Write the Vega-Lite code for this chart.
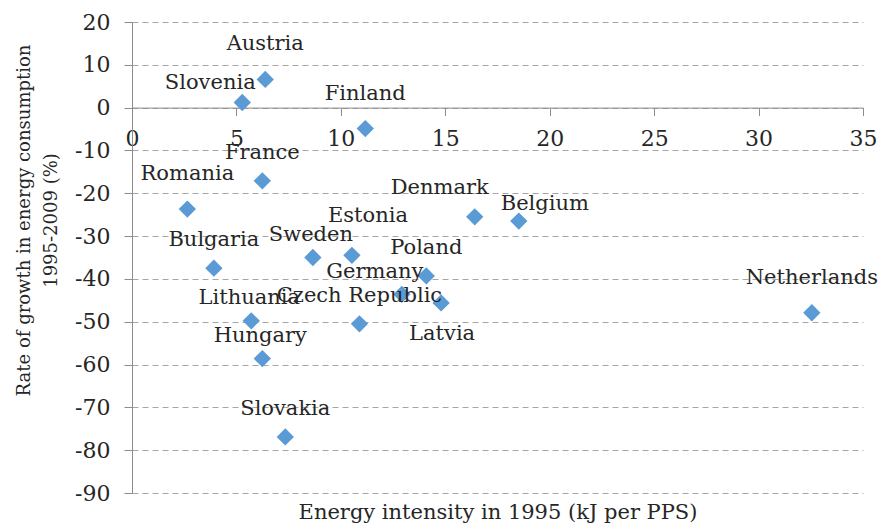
{
  "$schema": "https://vega.github.io/schema/vega-lite/v6.json",
  "width": 731,
  "height": 471,
  "autosize": {"type": "none"},
  "padding": {"left": 132, "top": 22, "right": 17, "bottom": 31},
  "background": "white",
  "config": {"view": {"stroke": null}, "font": "DejaVu Serif"},
  "data": {
    "values": [
      {"country": "Austria", "intensity": 6.38, "growth": 6.6},
      {"country": "Slovenia", "intensity": 5.28, "growth": 1.2},
      {"country": "Finland", "intensity": 11.17, "growth": -4.9},
      {"country": "France", "intensity": 6.24, "growth": -17.1},
      {"country": "Romania", "intensity": 2.65, "growth": -23.7},
      {"country": "Bulgaria", "intensity": 3.92, "growth": -37.5},
      {"country": "Sweden", "intensity": 8.66, "growth": -35.0},
      {"country": "Estonia", "intensity": 10.53, "growth": -34.5},
      {"country": "Lithuania", "intensity": 5.71, "growth": -49.8},
      {"country": "Czech Republic", "intensity": 10.89, "growth": -50.5},
      {"country": "Hungary", "intensity": 6.24, "growth": -58.6},
      {"country": "Slovakia", "intensity": 7.34, "growth": -76.9},
      {"country": "Denmark", "intensity": 16.41, "growth": -25.5},
      {"country": "Belgium", "intensity": 18.52, "growth": -26.5},
      {"country": "Poland", "intensity": 14.09, "growth": -39.3},
      {"country": "Germany", "intensity": 12.92, "growth": -43.6},
      {"country": "Latvia", "intensity": 14.8, "growth": -45.6},
      {"country": "Netherlands", "intensity": 32.55, "growth": -47.9}
    ]
  },
  "encoding": {
    "x": {
      "field": "intensity",
      "type": "quantitative",
      "scale": {"domain": [0, 35], "nice": false, "zero": false},
      "axis": {
        "values": [0, 5, 10, 15, 20, 25, 30, 35],
        "labelExpr": "'' + datum.value",
        "grid": false,
        "offset": -385.4,
        "domainColor": "#8c8c8c",
        "tickColor": "#8c8c8c",
        "tickSize": 8,
        "labelPadding": 13,
        "labelFont": "DejaVu Serif",
        "labelFontSize": 22,
        "labelColor": "#262626",
        "labelOverlap": false,
        "labelFlush": false,
        "title": "Energy intensity in 1995 (kJ per PPS)",
        "titleFont": "DejaVu Serif",
        "titleFontSize": 21,
        "titleFontWeight": "normal",
        "titleColor": "#262626",
        "titleBaseline": "alphabetic",
        "titleY": 411
      }
    },
    "y": {
      "field": "growth",
      "type": "quantitative",
      "scale": {"domain": [-90, 20], "nice": false, "zero": false},
      "axis": {
        "values": [-90, -80, -70, -60, -50, -40, -30, -20, -10, 0, 10, 20],
        "labelExpr": "'' + datum.value",
        "grid": true,
        "gridDash": [6, 4],
        "gridColor": "#a6a6a6",
        "gridWidth": 1,
        "domainColor": "#8c8c8c",
        "tickColor": "#8c8c8c",
        "tickSize": 8,
        "labelPadding": 14,
        "labelFont": "DejaVu Serif",
        "labelFontSize": 22,
        "labelColor": "#262626",
        "labelOverlap": false,
        "labelFlush": false,
        "title": ["Rate of growth in energy consumption", "1995-2009 (%)"],
        "titleFont": "DejaVu Serif",
        "titleFontSize": 18,
        "titleFontWeight": "normal",
        "titleColor": "#262626",
        "titleAngle": -90,
        "titleBaseline": "top",
        "titleAlign": "center",
        "titleLineHeight": 27,
        "titleX": -117,
        "titleY": 198
      }
    }
  },
  "layer": [
    {
      "mark": {"type": "point", "shape": "diamond", "filled": true, "size": 300, "color": "#5b9bd5", "opacity": 1}
    },
    {
      "transform": [{"filter": {"field": "country", "oneOf": ["Austria", "Finland", "Romania", "Netherlands"]}}],
      "mark": {"type": "text", "font": "DejaVu Serif", "fontSize": 21, "color": "#262626", "baseline": "middle", "align": "center", "dx": 0, "dy": -35},
      "encoding": {"text": {"field": "country"}}
    },
    {
      "transform": [{"filter": {"field": "country", "oneOf": ["France", "Bulgaria", "Slovakia", "Poland", "Czech Republic"]}}],
      "mark": {"type": "text", "font": "DejaVu Serif", "fontSize": 21, "color": "#262626", "baseline": "middle", "align": "center", "dx": 0, "dy": -28},
      "encoding": {"text": {"field": "country"}}
    },
    {
      "transform": [{"filter": {"field": "country", "oneOf": ["Sweden", "Lithuania", "Hungary"]}}],
      "mark": {"type": "text", "font": "DejaVu Serif", "fontSize": 21, "color": "#262626", "baseline": "middle", "align": "center", "dx": -2, "dy": -23},
      "encoding": {"text": {"field": "country"}}
    },
    {
      "transform": [{"filter": {"field": "country", "equal": "Slovenia"}}],
      "mark": {"type": "text", "font": "DejaVu Serif", "fontSize": 21, "color": "#262626", "baseline": "middle", "align": "center", "dx": -32, "dy": -19},
      "encoding": {"text": {"field": "country"}}
    },
    {
      "transform": [{"filter": {"field": "country", "equal": "Estonia"}}],
      "mark": {"type": "text", "font": "DejaVu Serif", "fontSize": 21, "color": "#262626", "baseline": "middle", "align": "center", "dx": 16, "dy": -39},
      "encoding": {"text": {"field": "country"}}
    },
    {
      "transform": [{"filter": {"field": "country", "equal": "Denmark"}}],
      "mark": {"type": "text", "font": "DejaVu Serif", "fontSize": 21, "color": "#262626", "baseline": "middle", "align": "center", "dx": -35, "dy": -29},
      "encoding": {"text": {"field": "country"}}
    },
    {
      "transform": [{"filter": {"field": "country", "equal": "Belgium"}}],
      "mark": {"type": "text", "font": "DejaVu Serif", "fontSize": 21, "color": "#262626", "baseline": "middle", "align": "center", "dx": 26, "dy": -17},
      "encoding": {"text": {"field": "country"}}
    },
    {
      "transform": [{"filter": {"field": "country", "equal": "Germany"}}],
      "mark": {"type": "text", "font": "DejaVu Serif", "fontSize": 21, "color": "#262626", "baseline": "middle", "align": "center", "dx": -27, "dy": -22},
      "encoding": {"text": {"field": "country"}}
    },
    {
      "transform": [{"filter": {"field": "country", "equal": "Latvia"}}],
      "mark": {"type": "text", "font": "DejaVu Serif", "fontSize": 21, "color": "#262626", "baseline": "middle", "align": "center", "dx": 1, "dy": 31},
      "encoding": {"text": {"field": "country"}}
    }
  ]
}
